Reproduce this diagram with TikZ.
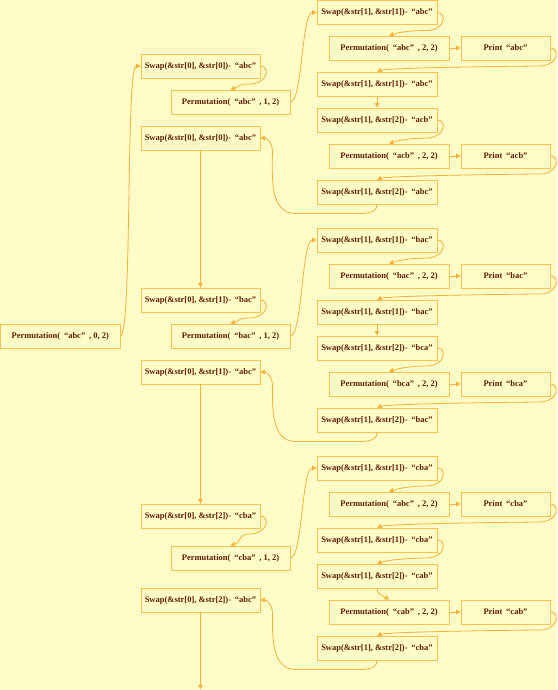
\documentclass[tikz,border=0pt]{standalone}
\usepackage{fontspec}
\setmainfont{Liberation Serif}
\usetikzlibrary{arrows.meta,calc}
\definecolor{bgc}{RGB}{255,252,200}
\definecolor{boxc}{RGB}{255,192,80}
\definecolor{linec}{RGB}{248,176,56}
\definecolor{txtc}{RGB}{96,28,0}
\newcommand\qt[1]{\hspace{0.45em}“#1”}
\newcommand\qp[1]{\hspace{0.45em}“#1”\hspace{0.45em}}
\tikzset{
  box/.style={draw=boxc, line width=0.8pt, minimum height=24pt, inner sep=0pt,
    text=txtc, font=\fontsize{8.5}{9}\selectfont\bfseries},
  sw/.style={box, minimum width=120pt},
  pm/.style={box, minimum width=120pt},
  pr/.style={box, minimum width=89pt},
  conn/.style={draw=linec, line width=0.8pt, -{Triangle[length=4.5pt,width=4.5pt]}},
}
\newcommand\eastdown[2]{\draw[conn] (#1.east) .. controls +(9,0) and +(18,2) .. ($(#1.east)+(-9,-18)$) .. controls +(-15,0) and +(12,4) .. (#2.north);}
\newcommand\sideup[2]{\draw[conn] (#1.east) .. controls +(12,0) and +(-15,0) .. (#2.west);}
\newcommand\backup[2]{%
  \coordinate (ba) at ($(#1.south)+(-25,-9)$);
  \coordinate (bx) at ($(#2.east)+(35,0)$);
  \coordinate (bc) at ($(#2.east)+(12,-12)$);
  \draw[conn] (#1.south) to[out=-90,in=0] (ba) -- (bx |- ba) to[out=180,in=-90] (bc) to[out=90,in=0] (#2.east);}
\begin{document}
\begin{tikzpicture}[x=1pt,y=1pt]
\fill[bgc] (0,0) rectangle (557,-690);
\useasboundingbox (0,0) rectangle (557,-690);
% left
\node[box, minimum width=119.5pt] (P0) at (60.25,-336) {Permutation(\qp{abc}, 0, 2)};
% column 1
\node[sw, minimum width=119pt] (S1a) at (200.5,-66) {Swap(\&str[0], \&str[0])-\qt{abc}};
\node[pm, minimum width=119pt] (P1a) at (230.5,-102) {Permutation(\qp{abc}, 1, 2)};
\node[sw, minimum width=119pt] (S1b) at (200.5,-138) {Swap(\&str[0], \&str[0])-\qt{abc}};
\node[sw, minimum width=119pt] (S2a) at (200.5,-300) {Swap(\&str[0], \&str[1])-\qt{bac}};
\node[pm, minimum width=119pt] (P2) at (230.5,-336) {Permutation(\qp{bac}, 1, 2)};
\node[sw, minimum width=119pt] (S2b) at (200.5,-372) {Swap(\&str[0], \&str[1])-\qt{abc}};
\node[sw, minimum width=119pt] (S3a) at (200.5,-516) {Swap(\&str[0], \&str[2])-\qt{cba}};
\node[pm, minimum width=119pt] (P3) at (230.5,-558) {Permutation(\qp{cba}, 1, 2)};
\node[sw, minimum width=119pt] (S3b) at (200.5,-600) {Swap(\&str[0], \&str[2])-\qt{abc}};
% column 2, block 1
\node[sw] (T1) at (377,-12.5) {Swap(\&str[1], \&str[1])-\qt{abc}};
\node[pm] (QA) at (389,-48) {Permutation(\qp{abc}, 2, 2)};
\node[pr] (RA) at (505.5,-48) {Print\qt{abc}};
\node[sw] (T2) at (377,-84) {Swap(\&str[1], \&str[1])-\qt{abc}};
\node[sw] (T3) at (377,-120) {Swap(\&str[1], \&str[2])-\qt{acb}};
\node[pm] (QB) at (389,-156) {Permutation(\qp{acb}, 2, 2)};
\node[pr] (RB) at (505.5,-156) {Print\qt{acb}};
\node[sw] (T4) at (377,-192) {Swap(\&str[1], \&str[2])-\qt{abc}};
% block 2
\node[sw] (T5) at (377,-240) {Swap(\&str[1], \&str[1])-\qt{bac}};
\node[pm] (QC) at (389,-276) {Permutation(\qp{bac}, 2, 2)};
\node[pr] (RC) at (505.5,-276) {Print\qt{bac}};
\node[sw] (T6) at (377,-312) {Swap(\&str[1], \&str[1])-\qt{bac}};
\node[sw] (T7) at (377,-348) {Swap(\&str[1], \&str[2])-\qt{bca}};
\node[pm] (QD) at (389,-384) {Permutation(\qp{bca}, 2, 2)};
\node[pr] (RD) at (505.5,-384) {Print\qt{bca}};
\node[sw] (T8) at (377,-420) {Swap(\&str[1], \&str[2])-\qt{bac}};
% block 3
\node[sw] (T9) at (377,-468) {Swap(\&str[1], \&str[1])-\qt{cba}};
\node[pm] (QE) at (389,-504) {Permutation(\qp{abc}, 2, 2)};
\node[pr] (RE) at (505.5,-504) {Print\qt{cba}};
\node[sw] (T10) at (377,-540) {Swap(\&str[1], \&str[1])-\qt{cba}};
\node[sw] (T11) at (377,-576) {Swap(\&str[1], \&str[2])-\qt{cab}};
\node[pm] (QF) at (389,-612) {Permutation(\qp{cab}, 2, 2)};
\node[pr] (RF) at (505.5,-612) {Print\qt{cab}};
\node[sw] (T12) at (377,-648) {Swap(\&str[1], \&str[2])-\qt{cba}};
\coordinate (end) at (200.5,-689.5);
% connectors
\sideup{P0}{S1a}
\eastdown{S1a}{P1a}
\sideup{P1a}{T1}
\eastdown{T1}{QA}
\draw[conn] (QA) -- (RA);
\eastdown{RA}{T2}
\draw[conn] (T2) -- (T3);
\eastdown{T3}{QB}
\draw[conn] (QB) -- (RB);
\eastdown{RB}{T4}
\backup{T4}{S1b}
\draw[conn] (S1b) -- (S2a);
\eastdown{S2a}{P2}
\sideup{P2}{T5}
\eastdown{T5}{QC}
\draw[conn] (QC) -- (RC);
\eastdown{RC}{T6}
\draw[conn] (T6) -- (T7);
\eastdown{T7}{QD}
\draw[conn] (QD) -- (RD);
\eastdown{RD}{T8}
\backup{T8}{S2b}
\draw[conn] (S2b) -- (S3a);
\eastdown{S3a}{P3}
\sideup{P3}{T9}
\eastdown{T9}{QE}
\draw[conn] (QE) -- (RE);
\eastdown{RE}{T10}
\eastdown{T10}{T11}
\draw[conn] (T11.south) .. controls +(0,-6) and +(-8,5) .. (QF.north);
\draw[conn] (QF) -- (RF);
\eastdown{RF}{T12}
\backup{T12}{S3b}
\draw[conn] (S3b) -- (end);
\end{tikzpicture}
\end{document}
